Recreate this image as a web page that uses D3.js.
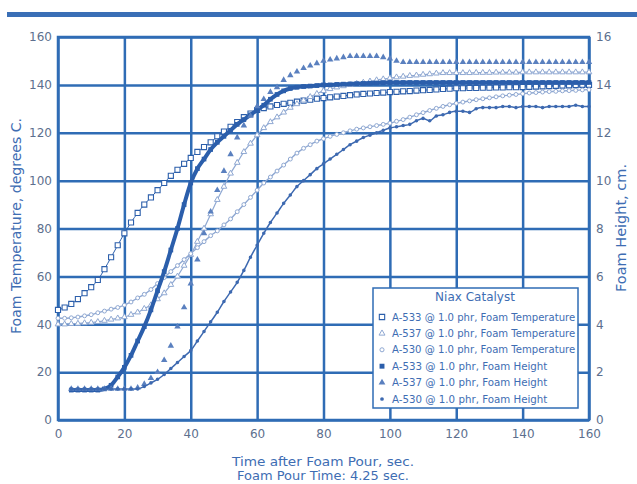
<!DOCTYPE html>
<html>
<head>
<meta charset="utf-8">
<script src="https://cdn.jsdelivr.net/npm/d3@7"></script>
<style>
  body { margin: 0; background: #fff; }
  text { font-family: "DejaVu Sans", Verdana, sans-serif; }
</style>
</head>
<body>
<div id="chart"></div>
<script>
// time after foam pour, sec.
const times = [
  0, 2, 4, 6, 8, 10, 12, 14, 16, 18,
  20, 22, 24, 26, 28, 30, 32, 34, 36, 38,
  40, 42, 44, 46, 48, 50, 52, 54, 56, 58,
  60, 62, 64, 66, 68, 70, 72, 74, 76, 78,
  80, 82, 84, 86, 88, 90, 92, 94, 96, 98,
  100, 102, 104, 106, 108, 110, 112, 114, 116, 118,
  120, 122, 124, 126, 128, 130, 132, 134, 136, 138,
  140, 142, 144, 146, 148, 150, 152, 154, 156, 158,
  160
];

// foam temperature, degrees C
const a533Temp = [
  46, 47, 48.5, 50.5, 53, 55.5, 58.5, 63, 68, 73,
  78, 82.5, 86.5, 90, 93, 96, 99, 102, 104.5, 107,
  109.5, 112, 114, 116, 118.5, 120.5, 122.5, 124.5, 126.5, 128,
  129.5, 130.3, 131, 131.6, 132.1, 132.5, 133, 133.4, 133.8, 134.2,
  134.5, 134.8, 135.1, 135.4, 135.7, 136, 136.2, 136.4, 136.6, 136.8,
  137, 137.1, 137.3, 137.4, 137.6, 137.8, 137.9, 138.1, 138.3, 138.4,
  138.6, 138.6, 138.7, 138.7, 138.8, 138.8, 138.9, 138.9, 139, 139,
  139.1, 139.2, 139.3, 139.4, 139.5, 139.6, 139.7, 139.8, 139.9, 140,
  140
];
const a537Temp = [
  40, 40, 40.2, 40.3, 40.5, 40.7, 41, 41.5, 42, 42.5,
  43, 44, 45, 46.5, 48, 50.5, 53, 56.5, 60, 64.5,
  69, 74.5, 80, 86, 92, 97.5, 103, 107.5, 112, 115.5,
  119, 122, 124.5, 126.5, 128.5, 130.5, 132, 133.5, 135, 136.3,
  137.5, 138.3, 139, 139.5, 140, 140.5, 141, 141.5, 142, 142.4,
  142.8, 143.2, 143.5, 143.8, 144, 144.3, 144.5, 144.8, 145, 145,
  145, 145, 145, 145.1, 145.1, 145.1, 145.2, 145.2, 145.2, 145.2,
  145.3, 145.3, 145.3, 145.3, 145.3, 145.3, 145.3, 145.3, 145.3, 145.3,
  145.3
];
const a530Temp = [
  42.5, 42.5, 42.7, 43, 43.5, 44, 44.8, 45.5, 46.3, 47,
  48, 49.3, 51, 52.5, 54.5, 57, 59.5, 62, 64.5, 67,
  69.5, 72, 74.5, 77, 79, 81.5, 84, 87, 90, 93,
  96, 99, 101.5, 104, 106.5, 109, 111.5, 113.5, 115, 116.5,
  117.5, 118.5, 119.3, 120, 120.8, 121.5, 122, 122.5, 123, 123.5,
  124, 124.8, 125.5, 126.5, 127.5, 128.4, 129.3, 130.2, 131, 131.7,
  132.3, 132.8, 133.3, 133.8, 134.2, 134.6, 135, 135.4, 135.7, 136,
  136.3, 136.6, 136.8, 137, 137.2, 137.3, 137.5, 137.6, 137.7, 137.9,
  138
];

// foam height, cm.
const a533Height = [
  null, null, 1.25, 1.25, 1.25, 1.25, 1.25, 1.3, 1.45, 1.8,
  2.2, 2.7, 3.3, 3.9, 4.6, 5.4, 6.2, 7.1, 8.0, 9.0,
  9.9, 10.5, 10.9, 11.3, 11.6, 11.85, 12.1, 12.35, 12.55, 12.75,
  12.95, 13.15, 13.4, 13.6, 13.75, 13.85, 13.9, 13.93, 13.95, 13.97,
  14.0, 14.0, 14.02, 14.03, 14.04, 14.05, 14.06, 14.07, 14.08, 14.09,
  14.1, 14.1, 14.1, 14.1, 14.1, 14.1, 14.1, 14.1, 14.1, 14.1,
  14.1, 14.1, 14.1, 14.1, 14.1, 14.1, 14.1, 14.1, 14.1, 14.1,
  14.1, 14.1, 14.1, 14.1, 14.1, 14.1, 14.1, 14.1, 14.1, 14.1,
  14.1
];
const a537Height = [
  null, null, 1.3, 1.3, 1.3, 1.3, 1.3, 1.3, 1.3, 1.3,
  1.3, 1.3, 1.35, 1.5, 1.75, 2.0, 2.5, 3.1, 3.9, 4.7,
  5.7, 6.7, 7.8, 8.7, 9.6, 10.4, 11.1, 11.8, 12.3, 12.7,
  13.1, 13.4, 13.7, 13.9, 14.2, 14.4, 14.55, 14.7, 14.8, 14.9,
  15.0, 15.05, 15.1, 15.15, 15.2, 15.2, 15.2, 15.2, 15.2, 15.15,
  15.1, 15.0, 14.95, 14.95, 14.95, 14.95, 14.95, 14.95, 14.95, 14.95,
  14.95, 14.95, 14.95, 14.95, 14.95, 14.95, 14.95, 14.95, 14.95, 14.95,
  14.95, 14.95, 14.95, 14.95, 14.95, 14.95, 14.95, 14.95, 14.95, 14.95,
  14.95
];
const a530Height = [
  null, null, 1.3, 1.3, 1.3, 1.3, 1.3, 1.3, 1.3, 1.3,
  1.3, 1.3, 1.3, 1.4, 1.55, 1.7, 1.9, 2.15, 2.4, 2.65,
  2.9, 3.3, 3.7, 4.1, 4.5, 4.95, 5.35, 5.75, 6.25, 6.8,
  7.3, 7.8, 8.25, 8.65, 9.05, 9.4, 9.75, 10.0, 10.25, 10.5,
  10.7, 10.9, 11.1, 11.3, 11.5, 11.65, 11.8, 11.9, 12.0, 12.1,
  12.2, 12.25, 12.3, 12.35, 12.5, 12.6, 12.5, 12.7, 12.75, 12.85,
  12.9, 12.9, 12.85, 13.0, 13.05, 13.05, 13.05, 13.1, 13.1, 13.05,
  13.1, 13.1, 13.1, 13.05, 13.1, 13.1, 13.1, 13.1, 13.15, 13.1,
  13.1
];

const xTicks = [0, 20, 40, 60, 80, 100, 120, 140, 160];
const tempTicks = [0, 20, 40, 60, 80, 100, 120, 140, 160];
const heightTicks = [0, 2, 4, 6, 8, 10, 12, 14, 16];

const legendTitle = 'Niax Catalyst';
const seriesNames = [
  'A-533 @ 1.0 phr, Foam Temperature',
  'A-537 @ 1.0 phr, Foam Temperature',
  'A-530 @ 1.0 phr, Foam Temperature',
  'A-533 @ 1.0 phr, Foam Height',
  'A-537 @ 1.0 phr, Foam Height',
  'A-530 @ 1.0 phr, Foam Height'
];

const blue = '#2f6cb5';
const light = '#8fa8d2';
const titleBlue = '#3e6db3';

const series = [
  { name: seriesNames[0], values: a533Temp, axis: 'temp', symbol: d3.symbolSquare, size: 26, fill: '#fff', stroke: '#2c5fab', sw: 1.1, line: 1, lineColor: '#2c5fab' },
  { name: seriesNames[1], values: a537Temp, axis: 'temp', symbol: d3.symbolTriangle, size: 14, fill: '#fff', stroke: light, sw: 1, line: 1.2, lineColor: light },
  { name: seriesNames[2], values: a530Temp, axis: 'temp', symbol: d3.symbolCircle, size: 12, fill: '#fff', stroke: light, sw: 1, line: 1.4, lineColor: light },
  { name: seriesNames[3], values: a533Height, axis: 'height', symbol: d3.symbolSquare, size: 22, fill: '#2b5eab', stroke: 'none', sw: 0, line: 4, lineColor: '#2b5eab' },
  { name: seriesNames[4], values: a537Height, axis: 'height', symbol: d3.symbolTriangle, size: 18, fill: '#5a80bf', stroke: 'none', sw: 0, line: 0, lineColor: null },
  { name: seriesNames[5], values: a530Height, axis: 'height', symbol: d3.symbolCircle, size: 10, fill: '#3d69b0', stroke: 'none', sw: 0, line: 1.5, lineColor: '#3d69b0' }
];

const width = 637, height = 484;
const margin = { top: 37, right: 48, bottom: 64, left: 58 };
const w = width - margin.left - margin.right;
const h = height - margin.top - margin.bottom;

const svg = d3.select('#chart').append('svg')
  .attr('width', width)
  .attr('height', height);

// banner rule at the top
svg.append('rect')
  .attr('x', 7).attr('y', 12)
  .attr('width', width - 7).attr('height', 5)
  .attr('fill', '#3a6fb6');

const chart = svg.append('g')
  .attr('transform', `translate(${margin.left},${margin.top})`);

const x = d3.scaleLinear().domain([0, 160]).range([0, w]);
const yTemp = d3.scaleLinear().domain([0, 160]).range([h, 0]);
const yHeight = d3.scaleLinear().domain([0, 16]).range([h, 0]);

const tickColor = '#5d6f8e';

const xAxis = chart.append('g')
  .attr('transform', `translate(0,${h})`)
  .call(d3.axisBottom(x).tickValues(xTicks).tickSize(-h).tickPadding(9));

const yAxisL = chart.append('g')
  .call(d3.axisLeft(yTemp).tickValues(tempTicks).tickSize(-w).tickPadding(6));

const yAxisR = chart.append('g')
  .attr('transform', `translate(${w},0)`)
  .call(d3.axisRight(yHeight).tickValues(heightTicks).tickSize(0).tickPadding(7));

[xAxis, yAxisL, yAxisR].forEach(g => {
  g.select('.domain').remove();
  g.selectAll('.tick line').attr('stroke', blue).attr('stroke-width', 2.5);
  g.selectAll('.tick text')
    .attr('fill', tickColor)
    .style('font-size', '12px')
    .style('font-family', '"DejaVu Sans", Verdana, sans-serif');
});

chart.append('rect')
  .attr('width', w).attr('height', h)
  .attr('fill', 'none')
  .attr('stroke', blue)
  .attr('stroke-width', 2.5);

// axis titles
svg.append('text')
  .attr('transform', 'translate(21,226) rotate(-90)')
  .attr('text-anchor', 'middle')
  .attr('fill', titleBlue)
  .attr('textLength', 216)
  .attr('lengthAdjust', 'spacingAndGlyphs')
  .style('font-size', '14px')
  .text('Foam Temperature, degrees C.');

svg.append('text')
  .attr('transform', 'translate(626,228) rotate(-90)')
  .attr('text-anchor', 'middle')
  .attr('fill', titleBlue)
  .attr('textLength', 128)
  .attr('lengthAdjust', 'spacingAndGlyphs')
  .style('font-size', '14px')
  .text('Foam Height, cm.');

svg.append('text')
  .attr('x', 323).attr('y', 466)
  .attr('text-anchor', 'middle')
  .attr('fill', titleBlue)
  .attr('textLength', 182)
  .attr('lengthAdjust', 'spacingAndGlyphs')
  .style('font-size', '12px')
  .text('Time after Foam Pour, sec.');

svg.append('text')
  .attr('x', 323).attr('y', 480)
  .attr('text-anchor', 'middle')
  .attr('fill', titleBlue)
  .attr('textLength', 172)
  .attr('lengthAdjust', 'spacingAndGlyphs')
  .style('font-size', '12px')
  .text('Foam Pour Time: 4.25 sec.');

// series
const plot = chart.append('g');

series.forEach(s => {
  const yScale = s.axis === 'temp' ? yTemp : yHeight;
  const pts = times.map((t, i) => ({ t: t, v: s.values[i] })).filter(d => d.v != null);

  if (s.line > 0) {
    const line = d3.line()
      .x(d => x(d.t))
      .y(d => yScale(d.v))
      .curve(d3.curveMonotoneX);
    plot.append('path')
      .datum(pts)
      .attr('d', line)
      .attr('fill', 'none')
      .attr('stroke', s.lineColor)
      .attr('stroke-width', s.line);
  }

  plot.append('g').selectAll('path')
    .data(pts)
    .join('path')
    .attr('transform', d => `translate(${x(d.t)},${yScale(d.v)})`)
    .attr('d', d3.symbol().type(s.symbol).size(s.size))
    .attr('fill', s.fill)
    .attr('stroke', s.stroke)
    .attr('stroke-width', s.sw);
});

// legend
const legend = svg.append('g')
  .attr('transform', 'translate(373,288)');

legend.append('rect')
  .attr('width', 205).attr('height', 120)
  .attr('fill', '#fff')
  .attr('stroke', blue)
  .attr('stroke-width', 1.5);

legend.append('text')
  .attr('x', 102).attr('y', 13)
  .attr('text-anchor', 'middle')
  .attr('fill', titleBlue)
  .style('font-size', '12px')
  .text(legendTitle);

const entry = legend.selectAll('.entry')
  .data(series)
  .join('g')
  .attr('class', 'entry')
  .attr('transform', (d, i) => `translate(9,${29 + i * 16.4})`);

entry.append('path')
  .attr('d', d => d3.symbol().type(d.symbol).size(d.size * 1.1)())
  .attr('fill', d => d.fill)
  .attr('stroke', d => d.stroke)
  .attr('stroke-width', d => d.sw);

entry.append('text')
  .attr('x', 10)
  .attr('dy', '0.35em')
  .attr('fill', titleBlue)
  .attr('textLength', d => d.name.length * 5.55)
  .attr('lengthAdjust', 'spacingAndGlyphs')
  .style('font-size', '10.5px')
  .text(d => d.name);
</script>
</body>
</html>
